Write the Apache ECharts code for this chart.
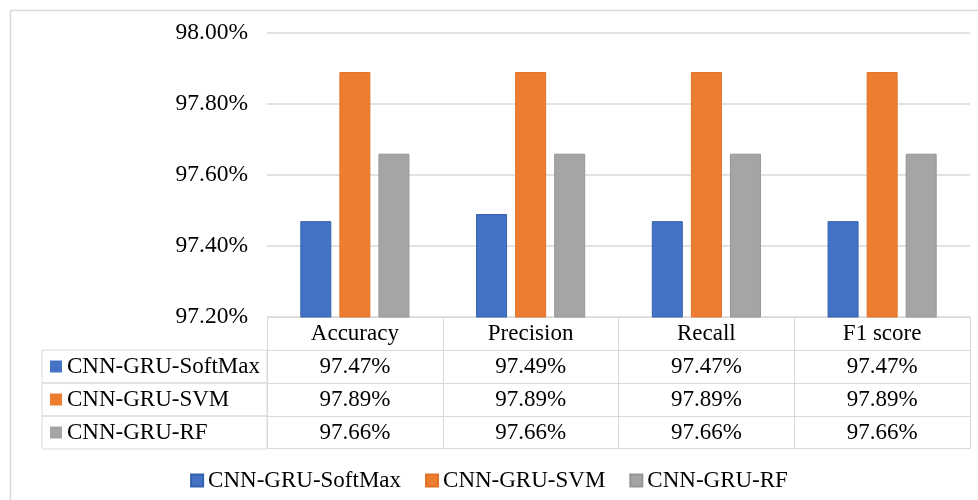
<!DOCTYPE html>
<html>
<head>
<meta charset="utf-8">
<script src="https://cdn.jsdelivr.net/npm/echarts@6/dist/echarts.min.js"></script>
<style>
  html, body { margin: 0; padding: 0; background: #ffffff; }
  #chart { width: 978px; height: 500px; }
</style>
</head>
<body>
<div id="chart"></div>
<script>
// Metrics compared across three classifier heads (values in %)
const categories = ['Accuracy', 'Precision', 'Recall', 'F1 score'];
const seriesNames = ['CNN-GRU-SoftMax', 'CNN-GRU-SVM', 'CNN-GRU-RF'];
const softmaxValues = [97.47, 97.49, 97.47, 97.47];
const svmValues = [97.89, 97.89, 97.89, 97.89];
const rfValues = [97.66, 97.66, 97.66, 97.66];
const yTicks = { min: 97.2, max: 98.0, step: 0.2 };

const allValues = [softmaxValues, svmValues, rfValues];
const colors = ['#4472C4', '#ED7D31', '#A5A5A5'];
const edgeColors = ['#3560ad', '#e0722a', '#959595'];
const FONT = '"Liberation Serif", "Times New Roman", serif';
const FONT_SIZE = 23;
const GRID_LINE = '#d9d9d9';
const ROW_H = 33;
const HEAD_W = 225;

const fmt = v => v.toFixed(2) + '%';

// Header row of the data table: the category axis itself
const xAxes = [{
  type: 'category',
  data: categories,
  position: 'bottom',
  offset: 0,
  axisLine: { show: true, lineStyle: { color: GRID_LINE, width: 1 } },
  axisTick: { show: true, interval: 0, length: ROW_H, lineStyle: { color: GRID_LINE, width: 1 } },
  axisLabel: { interval: 0, margin: 5, fontSize: FONT_SIZE, color: '#000', fontFamily: FONT }
}];

// One extra axis per series forms a table row; its name is the row header cell
allValues.forEach((vals, i) => {
  xAxes.push({
    type: 'category',
    data: vals.map(fmt),
    position: 'bottom',
    offset: ROW_H * (i + 1),
    name: '{k|}{t|' + seriesNames[i] + '}',
    nameLocation: 'start',
    nameGap: HEAD_W,
    nameMoveOverlap: false,
    nameTruncate: { maxWidth: HEAD_W - 8, ellipsis: '' },
    nameTextStyle: {
      align: 'left',
      verticalAlign: 'top',
      width: HEAD_W - 8,
      borderColor: GRID_LINE,
      borderWidth: 1,
      padding: [0, 0, 0, 8],
      rich: {
        k: { width: 12, height: 12, backgroundColor: colors[i], verticalAlign: 'middle', lineHeight: ROW_H },
        t: { padding: [0, 0, 0, 5], fontSize: FONT_SIZE, color: '#000',
             fontFamily: FONT, lineHeight: ROW_H, verticalAlign: 'middle' }
      }
    },
    axisLine: { show: true, lineStyle: { color: GRID_LINE, width: 1 } },
    axisTick: { show: true, interval: 0, length: ROW_H, lineStyle: { color: GRID_LINE, width: 1 } },
    axisLabel: { interval: 0, margin: 5, fontSize: FONT_SIZE, color: '#000', fontFamily: FONT }
  });
});

// Bottom edge of the table
xAxes.push({
  type: 'category',
  data: categories,
  position: 'bottom',
  offset: ROW_H * 4 - 1,
  axisLine: { show: true, lineStyle: { color: GRID_LINE, width: 1 } },
  axisTick: { show: false },
  axisLabel: { show: false }
});

const series = allValues.map((vals, i) => ({
  name: seriesNames[i],
  type: 'bar',
  xAxisIndex: 0,
  data: vals,
  barWidth: 31,
  barGap: '26%',
  itemStyle: { color: colors[i], borderColor: edgeColors[i], borderWidth: 1 }
}));

const chart = echarts.init(document.getElementById('chart'), null, { renderer: 'canvas' });
chart.setOption({
  animation: false,
  backgroundColor: '#ffffff',
  graphic: [{
    type: 'rect',
    silent: true,
    shape: { x: 10.5, y: 10.5, width: 1200, height: 900 },
    style: { fill: 'none', stroke: '#d9d9d9', lineWidth: 1.5 }
  }],
  grid: { left: 267, right: 8, top: 33, bottom: 183, containLabel: false },
  legend: {
    data: seriesNames,
    left: 'center',
    top: 464,
    icon: 'rect',
    itemWidth: 12,
    itemHeight: 12,
    itemGap: 24,
    textStyle: { fontSize: FONT_SIZE, color: '#000', fontFamily: FONT }
  },
  xAxis: xAxes,
  yAxis: {
    type: 'value',
    min: yTicks.min,
    max: yTicks.max,
    interval: yTicks.step,
    axisLine: { show: false },
    axisTick: { show: false },
    splitLine: { lineStyle: { color: GRID_LINE, width: 1.5 } },
    axisLabel: { margin: 19, fontSize: 23.5, color: '#000', fontFamily: FONT, formatter: v => fmt(v) }
  },
  series: series
});
</script>
</body>
</html>
